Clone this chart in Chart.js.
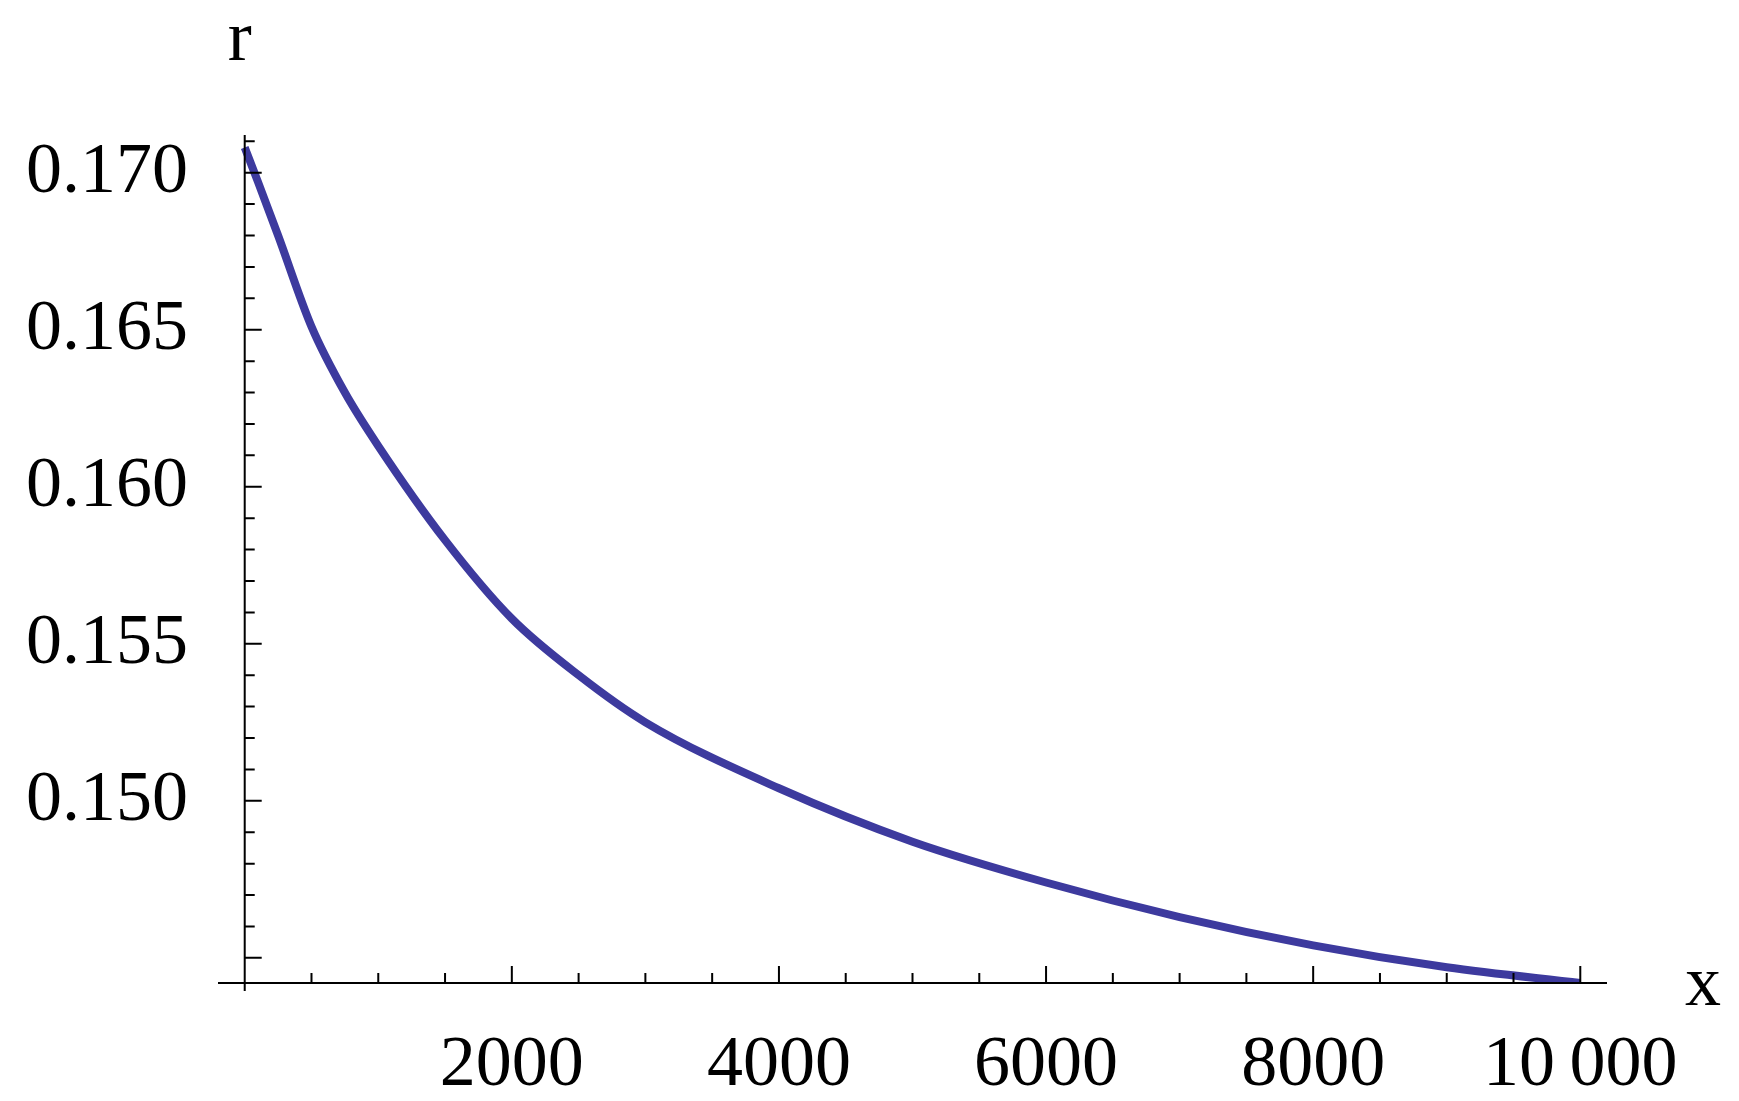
<!DOCTYPE html>
<html><head><meta charset="utf-8">
<script src="https://cdn.jsdelivr.net/npm/chart.js@4"></script>
<style>html,body{margin:0;background:#fff}#c{display:block}</style>
</head><body>
<div style="width:1739px;height:1101px"><canvas id="c"></canvas></div>
<script>
const xValues = [0, 100, 250, 500, 750, 1000, 1500, 2000, 2500, 3000, 4000, 5000, 6000, 7000, 8000, 9000, 10000];
const rValues = [0.1708, 0.1697, 0.1680, 0.1651, 0.1630, 0.1613, 0.1583, 0.1558, 0.1540, 0.1525, 0.1504, 0.1487, 0.1474, 0.1463, 0.1454, 0.1447, 0.1442];
const xTickLabels = [2000, 4000, 6000, 8000, 10000];
const yTickLabels = [0.150, 0.155, 0.160, 0.165, 0.170];
const FONT = '"Liberation Serif", "DejaVu Serif", serif';

const axesPlugin = {
  id: 'axes',
  afterDraw(chart) {
    const ctx = chart.ctx, xs = chart.scales.x, ys = chart.scales.y;
    const x0 = xs.getPixelForValue(0), y0 = ys.getPixelForValue(ys.min);
    ctx.save();
    ctx.strokeStyle = '#000'; ctx.lineWidth = 2;
    ctx.beginPath();
    ctx.moveTo(xs.left, y0); ctx.lineTo(xs.right, y0);
    ctx.moveTo(x0, ys.top); ctx.lineTo(x0, y0 + 8);
    for (let v = 500; v <= 10000; v += 500) {
      const p = xs.getPixelForValue(v), L = v % 2000 === 0 ? 17 : 10;
      ctx.moveTo(p, y0); ctx.lineTo(p, y0 - L);
    }
    for (let k = 145; k <= 171; k++) {
      const p = ys.getPixelForValue(k / 1000), L = k % 5 === 0 ? 17 : 10;
      ctx.moveTo(x0, p); ctx.lineTo(x0 + L, p);
    }
    ctx.stroke();
    ctx.fillStyle = '#000';
    ctx.font = '72px ' + FONT;
    ctx.textAlign = 'center'; ctx.textBaseline = 'alphabetic';
    ctx.fillText('r', x0 - 5, 60);
    ctx.fillText('x', 1703, y0 + 22);
    ctx.restore();
  }
};

new Chart(document.getElementById('c'), {
  type: 'line',
  data: { datasets: [{
    data: xValues.map((x, i) => ({ x, y: rValues[i] })),
    borderColor: '#3d3a9e', borderWidth: 8, pointRadius: 0,
    cubicInterpolationMode: 'monotone', fill: false
  }]},
  options: {
    responsive: true, maintainAspectRatio: false, animation: false,
    devicePixelRatio: 1,
    layout: { padding: { top: 135, right: 132, left: 0, bottom: 0 } },
    plugins: { legend: { display: false }, tooltip: { enabled: false } },
    scales: {
      x: {
        type: 'linear', min: -200, max: 10200,
        afterFit(s) { s.height = 118; },
        afterBuildTicks(s) { s.ticks = xTickLabels.map(v => ({ value: v })); },
        grid: { display: false, drawTicks: false }, border: { display: false },
        ticks: { padding: 40, color: '#000', font: { family: FONT, size: 72 },
          callback: v => v === 10000 ? '10\u2009000' : String(v), maxRotation: 0 }
      },
      y: {
        type: 'linear', min: 0.1442, max: 0.1712,
        afterFit(s) { s.width = 218; },
        afterBuildTicks(s) { s.ticks = yTickLabels.map(v => ({ value: v })); },
        grid: { display: false, drawTicks: false }, border: { display: false },
        ticks: { padding: 30, color: '#000', font: { family: FONT, size: 72 },
          callback: v => Number(v).toFixed(3) }
      }
    }
  },
  plugins: [axesPlugin]
});
</script>
</body></html>
